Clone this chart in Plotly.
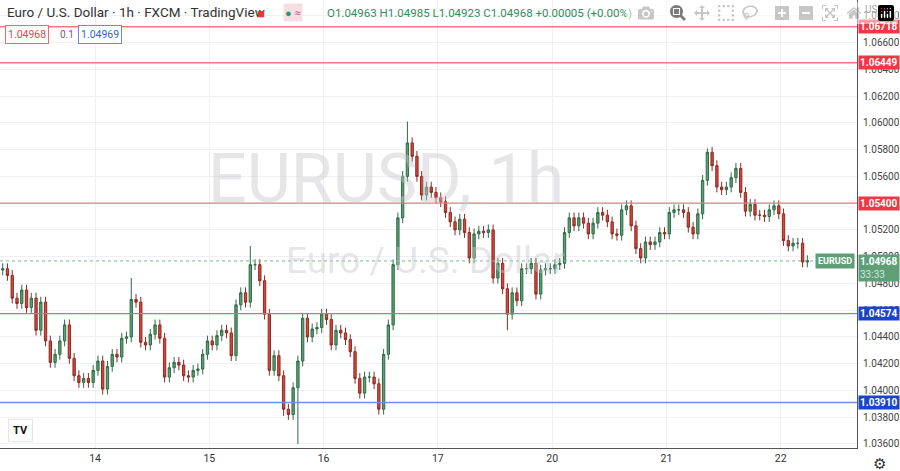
import plotly.graph_objects as go

closes = [
1.0491,1.0486,1.0469,1.0465,1.0475,1.0462,1.0469,1.0445,1.0466,1.0437,
1.0421,1.0427,1.0437,1.0449,1.0424,1.0411,1.0406,1.0409,1.0406,1.0415,
1.0422,1.0401,1.0418,1.0427,1.0425,1.0439,1.0440,1.0468,1.0466,1.0436,
1.0434,1.0442,1.0449,1.0439,1.0410,1.0417,1.0421,1.0419,1.0411,1.0410,
1.0415,1.0416,1.0427,1.0437,1.0434,1.0441,1.0445,1.0443,1.0426,1.0464,
1.0473,1.0466,1.0494,1.0494,1.0482,1.0457,1.0415,1.0426,1.0411,1.0386,
1.0382,1.0402,1.0422,1.0454,1.0440,1.0446,1.0447,1.0457,1.0453,1.0434,
1.0445,1.0443,1.0438,1.0429,1.0409,1.0398,1.0410,1.0410,1.0405,1.0386,
1.0427,1.0449,1.0494,1.0529,
1.0560,1.0585,1.0575,1.0560,1.0546,1.0552,1.0548,1.0544,1.0541,1.0533,
1.0526,1.0520,1.0528,1.0518,1.0499,1.0517,1.0519,1.0518,1.0520,1.0484,
1.0495,1.0476,1.0457,1.0473,1.0467,1.0491,1.0491,1.0495,1.0472,1.0490,
1.0491,1.0491,1.0494,1.0495,1.0518,1.0529,1.0523,1.0529,1.0525,1.0517,
1.0525,1.0533,1.0531,1.0526,1.0517,1.0516,1.0535,1.0538,1.0523,1.0506,
1.0499,1.0511,1.0509,1.0511,1.0518,1.0517,1.0533,1.0535,1.0535,1.0533,
1.0522,1.0517,1.0532,1.0557,1.0578,1.0568,1.0552,1.0550,1.0552,1.0559,
1.0566,1.0548,1.0534,1.0539,1.0531,1.0531,1.0530,1.0535,1.0538,1.0532,
1.0512,1.0508,1.0510,1.0510,1.0496,1.0497,
]
first_open = 1.0490
wick_highs = {27: 1.0484, 52: 1.0508, 85: 1.0601, 148: 1.0581, 9: 1.0470}
wick_lows = {62: 1.0360, 59: 1.0381, 60: 1.0378, 106: 1.0445, 79: 1.0382}
day_ticks = [19.4, 43.4, 67.4, 91.4, 115.4, 139.4, 163.4]
day_labels = ["14", "15", "16", "17", "20", "21", "22"]
red_levels = [1.06718, 1.06449, 1.05400]
blue_levels = [1.04574, 1.03910]
last_price = 1.04968

opens = [first_open] + closes[:-1]
pad = 0.0004
highs = [wick_highs.get(i, max(o, c) + pad) for i, (o, c) in enumerate(zip(opens, closes))]
lows = [wick_lows.get(i, min(o, c) - pad) for i, (o, c) in enumerate(zip(opens, closes))]
xs = list(range(len(closes)))

fig = go.Figure()
fig.add_trace(go.Candlestick(
    x=xs, open=opens, high=highs, low=lows, close=closes,
    increasing=dict(fillcolor="#5c9f74", line=dict(color="#2f6b46", width=1)),
    decreasing=dict(fillcolor="#d4473c", line=dict(color="#8e2a22", width=1)),
    whiskerwidth=0, showlegend=False, hoverinfo="skip"))

shapes = []
for lv in red_levels:
    shapes.append(dict(type="line", xref="paper", x0=0, x1=1, yref="y", y0=lv, y1=lv,
                       line=dict(color="#ef7a82", width=1.3)))
for lv in blue_levels:
    shapes.append(dict(type="line", xref="paper", x0=0, x1=1, yref="y", y0=lv, y1=lv,
                       line=dict(color="#6f8fdc", width=1.3)))
shapes.append(dict(type="line", xref="paper", x0=0, x1=1, yref="y", y0=last_price, y1=last_price,
                   line=dict(color="#7fb596", width=1, dash="dot")))
fig.update_layout(shapes=shapes)

ann = []
ann.append(dict(text="EURUSD, 1h", x=0.45, y=1.0558, xref="paper", yref="y", showarrow=False,
                font=dict(size=68, color="rgba(200,200,205,0.45)", family="Roboto")))
ann.append(dict(text="Euro / U.S. Dollar", x=0.497, y=1.0497, xref="paper", yref="y", showarrow=False,
                font=dict(size=37, color="rgba(200,200,205,0.45)", family="Roboto")))
for lv in red_levels:
    ann.append(dict(text=f"<b>{lv:.5f}</b>", x=1, xref="paper", xanchor="left", xshift=1, y=lv, yref="y",
                    showarrow=False, bgcolor="#f23645", font=dict(color="white", size=10, family="Roboto"),
                    borderpad=1))
for lv in blue_levels:
    ann.append(dict(text=f"<b>{lv:.5f}</b>", x=1, xref="paper", xanchor="left", xshift=1, y=lv, yref="y",
                    showarrow=False, bgcolor="#1c44c9", font=dict(color="white", size=10, family="Roboto"),
                    borderpad=1))
ann.append(dict(text=f"<b>{last_price:.5f}</b><br><span style='color:#cfe8d9'>33:33</span>", x=1, xref="paper",
                xanchor="left", xshift=1, y=last_price, yref="y", yanchor="top", yshift=7, showarrow=False,
                bgcolor="#5e9f78", font=dict(color="white", size=10, family="Roboto"), align="left", borderpad=1))
ann.append(dict(text="<b>EURUSD</b>", x=1, xref="paper", xanchor="right", xshift=-2, y=last_price, yref="y",
                showarrow=False, bgcolor="#5e9f78", font=dict(color="white", size=9, family="Roboto"), borderpad=2))
ann.append(dict(text="Euro / U.S. Dollar · 1h · FXCM · TradingView", x=0, y=1, xref="paper", yref="paper",
                xanchor="left", yanchor="top", xshift=5, yshift=-2, showarrow=False,
                font=dict(size=13.5, color="#333", family="Roboto")))
ann.append(dict(text="<span style='color:#e33'>■</span>", x=0, y=1, xref="paper", yref="paper", xanchor="left",
                yanchor="top", xshift=255, yshift=-2, showarrow=False, font=dict(size=13)))
ann.append(dict(text="<span style='color:#2e9a6a'>●</span> <span style='color:#d04070'>≈</span>", x=0, y=1,
                xref="paper", yref="paper", xanchor="left", yanchor="top", xshift=283, yshift=-3,
                showarrow=False, bgcolor="#f6dfe4", font=dict(size=11)))
ann.append(dict(text="O1.04963 H1.04985 L1.04923 C1.04968 +0.00005 (+0.00%)", x=0, y=1, xref="paper",
                yref="paper", xanchor="left", yanchor="top", xshift=325, yshift=-4, showarrow=False,
                font=dict(size=11.5, color="#2f8f5b", family="Roboto")))
ann.append(dict(text="1.04968", x=0, y=1, xref="paper", yref="paper", xanchor="left", yanchor="top",
                xshift=5, yshift=-25, showarrow=False, bordercolor="#ec6a70", borderwidth=1, borderpad=2,
                bgcolor="white", font=dict(size=10.5, color="#e0474f", family="Roboto")))
ann.append(dict(text="0.1", x=0, y=1, xref="paper", yref="paper", xanchor="left", yanchor="top",
                xshift=58, yshift=-27, showarrow=False, font=dict(size=10, color="#666", family="Roboto")))
ann.append(dict(text="1.04969", x=0, y=1, xref="paper", yref="paper", xanchor="left", yanchor="top",
                xshift=78, yshift=-25, showarrow=False, bordercolor="#6a88e6", borderwidth=1, borderpad=2,
                bgcolor="white", font=dict(size=10.5, color="#3a5fd0", family="Roboto")))
ann.append(dict(text="USD ▾", x=1, y=1, xref="paper", yref="paper", xanchor="left", yanchor="top",
                xshift=6, yshift=-2, showarrow=False, font=dict(size=10, color="#444", family="Roboto")))
ann.append(dict(text="⚙", x=1, y=0, xref="paper", yref="paper", xanchor="left", yanchor="top",
                xshift=14, yshift=-3, showarrow=False, font=dict(size=15, color="#333")))
ann.append(dict(text="<b>TV</b>", x=0, y=0, xref="paper", yref="paper", xanchor="left", yanchor="bottom",
                xshift=8, yshift=6, showarrow=False, bgcolor="white", bordercolor="#e5e5e5", borderwidth=1,
                borderpad=4, font=dict(size=11, color="#111", family="Roboto")))
fig.update_layout(annotations=ann)

fig.update_layout(
    width=900, height=471, margin=dict(l=0, r=43, t=0, b=23),
    paper_bgcolor="white", plot_bgcolor="white",
    xaxis=dict(range=[-0.57, 179.43], tickvals=day_ticks, ticktext=day_labels, showgrid=True,
               gridcolor="#eef0f4", rangeslider=dict(visible=False), zeroline=False, showline=True,
               linecolor="#555", ticks="", tickfont=dict(size=10.5, color="#333", family="Roboto")),
    yaxis=dict(range=[1.0357, 1.06918], side="right", dtick=0.002, tick0=1.036, tickformat=".5f",
               showgrid=True, gridcolor="#eef0f4", zeroline=False, showline=True, linecolor="#555",
               ticks="", ticklabelstandoff=3, tickfont=dict(size=10, color="#444", family="Roboto")),
)
fig.write_html("out.html", post_script="document.body.style.margin='0';document.body.style.overflow='hidden';")
